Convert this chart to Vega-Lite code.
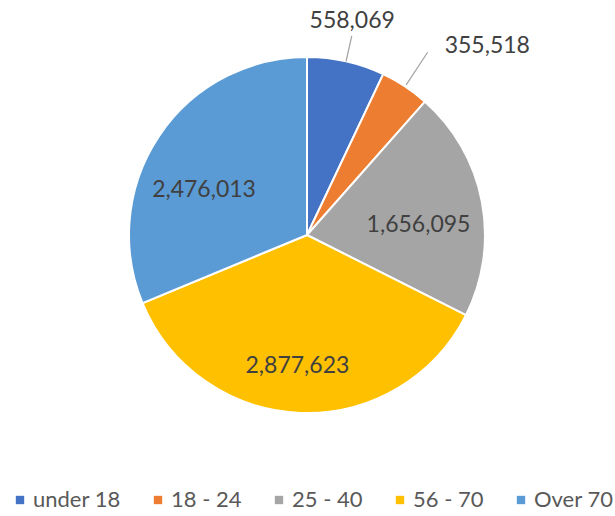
{
  "$schema": "https://vega.github.io/schema/vega-lite/v6.json",
  "width": 614,
  "height": 470,
  "padding": 0,
  "autosize": {"type": "pad"},
  "background": "white",
  "config": {"view": {"stroke": null}},
  "data": {
    "values": [
      {"group": "under 18", "value": 558069},
      {"group": "18 - 24", "value": 355518},
      {"group": "25 - 40", "value": 1656095},
      {"group": "56 - 70", "value": 2877623},
      {"group": "Over 70", "value": 2476013}
    ]
  },
  "transform": [
    {"window": [{"op": "row_number", "as": "idx"}]},
    {"stack": "value", "groupby": [], "sort": [{"field": "idx", "order": "ascending"}], "as": ["v0", "v1"]},
    {"calculate": "(datum.v0 + datum.v1) / 2", "as": "mid"}
  ],
  "layer": [
    {
      "mark": {"type": "arc", "radius": 178, "stroke": "white", "strokeWidth": 2},
      "encoding": {
        "theta": {"field": "value", "type": "quantitative", "stack": true},
        "order": {"field": "idx", "type": "quantitative"},
        "color": {
          "field": "group",
          "type": "nominal",
          "scale": {
            "domain": ["under 18", "18 - 24", "25 - 40", "56 - 70", "Over 70"],
            "range": ["#4472C4", "#ED7D31", "#A5A5A5", "#FFC000", "#5B9BD5"]
          },
          "legend": {
            "title": null,
            "orient": "none",
            "legendX": 9,
            "legendY": 489,
            "direction": "horizontal",
            "gridAlign": "none",
            "symbolType": "square",
            "symbolSize": 70,
            "symbolStrokeWidth": 0,
            "labelFont": "Lato",
            "labelFontSize": 22,
            "labelColor": "#595959",
            "labelOffset": 2,
            "columnPadding": 26,
            "labelLimit": 200
          }
        }
      }
    },
    {
      "transform": [{"filter": "datum.group === 'under 18'"}],
      "mark": {"type": "arc", "radius": 204, "radius2": 178, "stroke": "#A6A6A6", "strokeWidth": 1.3, "fill": "transparent"},
      "encoding": {
        "theta": {"field": "mid", "type": "quantitative", "stack": null},
        "theta2": {"field": "mid"}
      }
    },
    {
      "transform": [{"filter": "datum.group === '18 - 24'"}],
      "mark": {"type": "arc", "radius": 219, "radius2": 180, "stroke": "#A6A6A6", "strokeWidth": 1.3, "fill": "transparent"},
      "encoding": {
        "theta": {"field": "mid", "type": "quantitative", "stack": null},
        "theta2": {"field": "mid"}
      }
    },
    {
      "transform": [{"filter": "datum.group === 'under 18'"}],
      "mark": {"type": "text", "radius": 215, "dx": -2, "dy": 3, "font": "Lato", "fontSize": 23, "fill": "#404040", "align": "center", "baseline": "alphabetic"},
      "encoding": {
        "theta": {"field": "mid", "type": "quantitative", "stack": null},
        "text": {"field": "value", "type": "quantitative", "format": ","}
      }
    },
    {
      "transform": [{"filter": "datum.group === '18 - 24'"}],
      "mark": {"type": "text", "radius": 219, "dx": 17, "dy": 1, "font": "Lato", "fontSize": 23, "fill": "#404040", "align": "left", "baseline": "alphabetic"},
      "encoding": {
        "theta": {"field": "mid", "type": "quantitative", "stack": null},
        "text": {"field": "value", "type": "quantitative", "format": ","}
      }
    },
    {
      "transform": [{"filter": "datum.group === '25 - 40'"}],
      "mark": {"type": "text", "radius": 111, "dx": 2.5, "dy": 18, "font": "Lato", "fontSize": 23, "fill": "#404040", "align": "center", "baseline": "alphabetic"},
      "encoding": {
        "theta": {"field": "mid", "type": "quantitative", "stack": null},
        "text": {"field": "value", "type": "quantitative", "format": ","}
      }
    },
    {
      "transform": [{"filter": "datum.group === '56 - 70'"}],
      "mark": {"type": "text", "radius": 131, "dx": -4.7, "dy": 7, "font": "Lato", "fontSize": 23, "fill": "#404040", "align": "center", "baseline": "alphabetic"},
      "encoding": {
        "theta": {"field": "mid", "type": "quantitative", "stack": null},
        "text": {"field": "value", "type": "quantitative", "format": ","}
      }
    },
    {
      "transform": [{"filter": "datum.group === 'Over 70'"}],
      "mark": {"type": "text", "radius": 110, "dx": -11.5, "dy": 23, "font": "Lato", "fontSize": 23, "fill": "#404040", "align": "center", "baseline": "alphabetic"},
      "encoding": {
        "theta": {"field": "mid", "type": "quantitative", "stack": null},
        "text": {"field": "value", "type": "quantitative", "format": ","}
      }
    }
  ]
}
